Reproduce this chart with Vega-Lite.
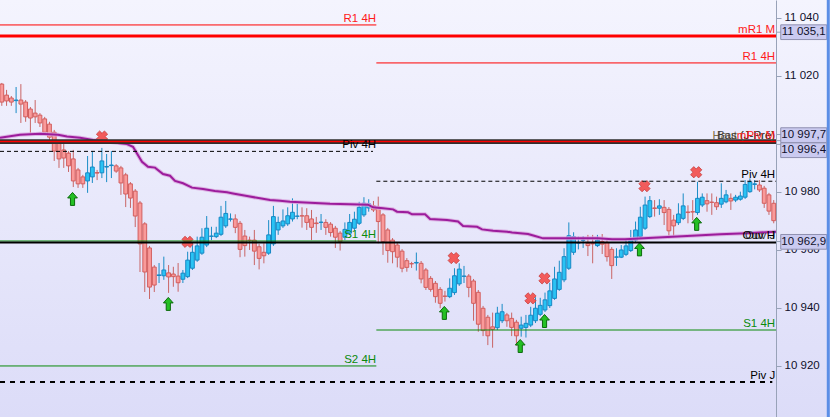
{
  "$schema": "https://vega.github.io/schema/vega-lite/v6.json",
  "width": 830,
  "height": 417,
  "autosize": "none",
  "padding": 0,
  "background": "#e8e8fa",
  "view": {"stroke": null, "fill": {"gradient": "linear", "x1": 0, "y1": 0, "x2": 0, "y2": 1, "stops": [{"offset": 0, "color": "#f4f4fe"}, {"offset": 1, "color": "#dcdcf8"}]}},
  "config": {
    "font": "Liberation Sans",
    "text": {"font": "Liberation Sans", "fontSize": 11},
    "scale": {"continuousPadding": 0},
    "axisY": {"grid": false, "domainColor": "#98a2b8", "tickColor": "#98a2b8", "tickSize": 5, "labelPadding": 3,
              "labelFont": "Liberation Sans", "labelFontSize": 11.5, "labelColor": "#10102a", "labelFlush": false, "labelOverlap": false}
  },
  "datasets": {
    "candles": [
      {"i":1,"o":11017.2,"h":11017.6,"l":11009.7,"c":11011.0},
      {"i":2,"o":11013.4,"h":11015.2,"l":11009.7,"c":11011.4},
      {"i":3,"o":11012.4,"h":11013.1,"l":11009.7,"c":11011.0},
      {"i":4,"o":11011.5,"h":11016.2,"l":11007.2,"c":11011.7},
      {"i":5,"o":11011.7,"h":11017.2,"l":11003.8,"c":11010.3},
      {"i":6,"o":11011.0,"h":11011.7,"l":11004.2,"c":11005.9},
      {"i":7,"o":11008.6,"h":11009.3,"l":11000.3,"c":11005.5},
      {"i":8,"o":11007.2,"h":11011.7,"l":11003.8,"c":11005.9},
      {"i":9,"o":11006.5,"h":11007.2,"l":11002.4,"c":11003.8},
      {"i":10,"o":11005.2,"h":11005.9,"l":10999.6,"c":11000.6},
      {"i":11,"o":11003.4,"h":11004.2,"l":10996.9,"c":10998.9},
      {"i":12,"o":11000.6,"h":11001.4,"l":10990.7,"c":10994.1},
      {"i":13,"o":10996.9,"h":10997.6,"l":10988.3,"c":10991.4},
      {"i":14,"o":10994.5,"h":10996.9,"l":10988.3,"c":10991.7},
      {"i":15,"o":10993.4,"h":10994.1,"l":10986.9,"c":10989.0},
      {"i":16,"o":10991.4,"h":10994.5,"l":10981.7,"c":10983.8},
      {"i":17,"o":10987.6,"h":10988.3,"l":10981.4,"c":10982.8},
      {"i":18,"o":10985.2,"h":10985.9,"l":10981.4,"c":10982.8},
      {"i":19,"o":10983.8,"h":10992.4,"l":10979.7,"c":10986.6},
      {"i":20,"o":10985.2,"h":10994.1,"l":10983.1,"c":10988.6},
      {"i":21,"o":10986.7,"h":10987.6,"l":10984.1,"c":10986.5},
      {"i":22,"o":10986.6,"h":10995.2,"l":10984.8,"c":10990.7},
      {"i":23,"o":10988.6,"h":10993.1,"l":10983.4,"c":10988.8},
      {"i":24,"o":10989.1,"h":10994.1,"l":10984.8,"c":10989.3},
      {"i":25,"o":10989.0,"h":10989.6,"l":10986.6,"c":10987.2},
      {"i":26,"o":10988.3,"h":10989.0,"l":10979.0,"c":10983.1},
      {"i":27,"o":10985.9,"h":10986.6,"l":10974.8,"c":10979.3},
      {"i":28,"o":10982.8,"h":10983.4,"l":10974.5,"c":10977.9},
      {"i":29,"o":10980.3,"h":10981.0,"l":10967.9,"c":10971.7},
      {"i":30,"o":10976.2,"h":10976.9,"l":10952.4,"c":10962.1},
      {"i":31,"o":10969.0,"h":10969.6,"l":10945.5,"c":10952.4},
      {"i":32,"o":10960.7,"h":10961.4,"l":10943.1,"c":10947.2},
      {"i":33,"o":10954.1,"h":10954.8,"l":10945.5,"c":10947.9},
      {"i":34,"o":10951.2,"h":10955.5,"l":10948.6,"c":10951.4},
      {"i":35,"o":10951.1,"h":10957.7,"l":10949.7,"c":10953.1},
      {"i":36,"o":10952.1,"h":10954.8,"l":10945.2,"c":10950.7},
      {"i":37,"o":10951.7,"h":10954.2,"l":10947.3,"c":10950.8},
      {"i":38,"o":10951.0,"h":10955.5,"l":10945.6,"c":10948.7},
      {"i":39,"o":10949.9,"h":10953.1,"l":10948.6,"c":10952.0},
      {"i":40,"o":10950.8,"h":10959.4,"l":10950.3,"c":10956.5},
      {"i":41,"o":10953.7,"h":10962.3,"l":10953.1,"c":10959.2},
      {"i":42,"o":10956.5,"h":10964.6,"l":10955.9,"c":10961.4},
      {"i":43,"o":10958.9,"h":10967.5,"l":10958.3,"c":10964.4},
      {"i":44,"o":10961.7,"h":10971.7,"l":10961.0,"c":10967.5},
      {"i":45,"o":10964.7,"h":10968.0,"l":10963.4,"c":10964.8},
      {"i":46,"o":10964.6,"h":10968.0,"l":10964.1,"c":10965.8},
      {"i":47,"o":10965.4,"h":10975.2,"l":10964.8,"c":10971.3},
      {"i":48,"o":10968.3,"h":10976.9,"l":10967.6,"c":10972.6},
      {"i":49,"o":10970.6,"h":10972.6,"l":10969.8,"c":10970.7},
      {"i":50,"o":10970.7,"h":10972.3,"l":10965.8,"c":10967.8},
      {"i":51,"o":10969.2,"h":10970.0,"l":10957.5,"c":10960.2},
      {"i":52,"o":10964.8,"h":10966.9,"l":10957.7,"c":10961.5},
      {"i":53,"o":10963.4,"h":10964.6,"l":10960.0,"c":10963.3},
      {"i":54,"o":10963.4,"h":10966.9,"l":10954.8,"c":10959.6},
      {"i":55,"o":10961.1,"h":10962.1,"l":10953.3,"c":10957.1},
      {"i":56,"o":10959.2,"h":10962.3,"l":10955.4,"c":10958.0},
      {"i":57,"o":10958.9,"h":10970.3,"l":10958.3,"c":10965.2},
      {"i":58,"o":10962.1,"h":10975.2,"l":10961.4,"c":10971.5},
      {"i":59,"o":10966.9,"h":10971.5,"l":10965.2,"c":10969.5},
      {"i":60,"o":10968.3,"h":10974.0,"l":10967.6,"c":10970.0},
      {"i":61,"o":10969.0,"h":10974.7,"l":10968.3,"c":10971.8},
      {"i":62,"o":10970.7,"h":10977.8,"l":10969.8,"c":10973.0},
      {"i":63,"o":10971.6,"h":10975.9,"l":10970.6,"c":10971.7},
      {"i":64,"o":10971.8,"h":10974.7,"l":10967.7,"c":10971.7},
      {"i":65,"o":10971.8,"h":10974.4,"l":10966.9,"c":10969.5},
      {"i":66,"o":10970.7,"h":10973.8,"l":10963.4,"c":10967.8},
      {"i":67,"o":10969.3,"h":10971.4,"l":10965.9,"c":10969.1},
      {"i":68,"o":10969.5,"h":10972.4,"l":10966.9,"c":10969.6},
      {"i":69,"o":10969.5,"h":10970.6,"l":10965.2,"c":10967.8},
      {"i":70,"o":10968.9,"h":10969.6,"l":10964.6,"c":10966.0},
      {"i":71,"o":10967.5,"h":10968.3,"l":10960.7,"c":10964.4},
      {"i":72,"o":10965.8,"h":10966.5,"l":10959.8,"c":10962.9},
      {"i":73,"o":10964.4,"h":10969.5,"l":10963.4,"c":10967.1},
      {"i":74,"o":10965.8,"h":10972.4,"l":10965.2,"c":10969.5},
      {"i":75,"o":10967.5,"h":10973.2,"l":10966.9,"c":10970.6},
      {"i":76,"o":10969.2,"h":10976.6,"l":10968.6,"c":10974.7},
      {"i":77,"o":10972.1,"h":10978.2,"l":10971.4,"c":10976.1},
      {"i":78,"o":10974.5,"h":10977.5,"l":10973.2,"c":10975.9},
      {"i":79,"o":10975.2,"h":10976.9,"l":10973.1,"c":10973.8},
      {"i":80,"o":10974.7,"h":10978.4,"l":10962.3,"c":10969.8},
      {"i":81,"o":10972.1,"h":10972.7,"l":10958.3,"c":10962.9},
      {"i":82,"o":10966.9,"h":10967.6,"l":10955.6,"c":10959.8},
      {"i":83,"o":10963.4,"h":10964.1,"l":10955.4,"c":10959.4},
      {"i":84,"o":10961.7,"h":10962.4,"l":10954.0,"c":10957.5},
      {"i":85,"o":10959.6,"h":10960.3,"l":10952.3,"c":10953.7},
      {"i":86,"o":10956.3,"h":10957.2,"l":10952.5,"c":10954.0},
      {"i":87,"o":10955.3,"h":10955.9,"l":10953.8,"c":10955.2},
      {"i":88,"o":10955.5,"h":10959.1,"l":10952.9,"c":10955.7},
      {"i":89,"o":10955.4,"h":10956.2,"l":10948.5,"c":10950.0},
      {"i":90,"o":10953.1,"h":10953.8,"l":10946.2,"c":10947.1},
      {"i":91,"o":10950.2,"h":10951.0,"l":10945.6,"c":10946.4},
      {"i":92,"o":10948.5,"h":10949.3,"l":10941.8,"c":10943.9},
      {"i":93,"o":10946.4,"h":10947.2,"l":10939.9,"c":10941.6},
      {"i":94,"o":10944.1,"h":10945.9,"l":10942.2,"c":10944.0},
      {"i":95,"o":10943.9,"h":10950.2,"l":10943.4,"c":10946.8},
      {"i":96,"o":10945.3,"h":10953.7,"l":10944.5,"c":10951.1},
      {"i":97,"o":10948.3,"h":10955.4,"l":10947.6,"c":10953.4},
      {"i":98,"o":10950.9,"h":10954.5,"l":10948.6,"c":10951.0},
      {"i":99,"o":10951.0,"h":10951.7,"l":10943.7,"c":10947.1},
      {"i":100,"o":10949.3,"h":10950.0,"l":10935.6,"c":10941.6},
      {"i":101,"o":10945.4,"h":10946.2,"l":10931.8,"c":10934.4},
      {"i":102,"o":10939.9,"h":10940.7,"l":10930.3,"c":10932.2},
      {"i":103,"o":10936.8,"h":10937.6,"l":10927.2,"c":10930.4},
      {"i":104,"o":10933.5,"h":10938.4,"l":10926.3,"c":10932.6},
      {"i":105,"o":10933.2,"h":10940.4,"l":10932.4,"c":10938.2},
      {"i":106,"o":10935.6,"h":10941.4,"l":10934.8,"c":10938.7},
      {"i":107,"o":10937.6,"h":10938.3,"l":10933.5,"c":10935.6},
      {"i":108,"o":10936.4,"h":10938.4,"l":10930.3,"c":10933.3},
      {"i":109,"o":10935.1,"h":10935.9,"l":10927.0,"c":10930.4},
      {"i":110,"o":10933.0,"h":10937.0,"l":10930.1,"c":10934.1},
      {"i":111,"o":10933.3,"h":10937.6,"l":10929.8,"c":10934.7},
      {"i":112,"o":10934.1,"h":10940.4,"l":10933.4,"c":10937.5},
      {"i":113,"o":10935.6,"h":10943.7,"l":10934.8,"c":10939.9},
      {"i":114,"o":10937.8,"h":10943.5,"l":10937.2,"c":10940.9},
      {"i":115,"o":10939.3,"h":10945.3,"l":10938.6,"c":10942.8},
      {"i":116,"o":10940.8,"h":10948.7,"l":10940.0,"c":10945.9},
      {"i":117,"o":10943.3,"h":10954.2,"l":10942.8,"c":10950.0},
      {"i":118,"o":10946.4,"h":10956.3,"l":10945.9,"c":10952.3},
      {"i":119,"o":10949.7,"h":10960.6,"l":10948.9,"c":10957.7},
      {"i":120,"o":10953.7,"h":10969.5,"l":10953.1,"c":10964.9},
      {"i":121,"o":10959.2,"h":10966.1,"l":10958.3,"c":10964.6},
      {"i":122,"o":10962.4,"h":10964.6,"l":10960.2,"c":10962.5},
      {"i":123,"o":10963.3,"h":10964.8,"l":10960.7,"c":10963.4},
      {"i":124,"o":10962.3,"h":10965.2,"l":10957.9,"c":10961.5},
      {"i":125,"o":10962.2,"h":10965.2,"l":10955.4,"c":10962.1},
      {"i":126,"o":10961.5,"h":10965.2,"l":10961.0,"c":10963.4},
      {"i":127,"o":10962.9,"h":10965.5,"l":10958.6,"c":10962.0},
      {"i":128,"o":10962.6,"h":10963.4,"l":10956.0,"c":10957.7},
      {"i":129,"o":10960.2,"h":10961.0,"l":10950.0,"c":10954.6},
      {"i":130,"o":10957.5,"h":10960.6,"l":10954.5,"c":10957.6},
      {"i":131,"o":10957.5,"h":10961.7,"l":10957.2,"c":10960.0},
      {"i":132,"o":10958.5,"h":10964.0,"l":10957.9,"c":10961.4},
      {"i":133,"o":10959.8,"h":10966.9,"l":10959.3,"c":10963.4},
      {"i":134,"o":10963.4,"h":10969.8,"l":10962.8,"c":10966.9},
      {"i":135,"o":10964.6,"h":10974.9,"l":10964.1,"c":10971.3},
      {"i":136,"o":10967.5,"h":10978.4,"l":10966.9,"c":10975.5},
      {"i":137,"o":10971.5,"h":10978.6,"l":10971.0,"c":10977.0},
      {"i":138,"o":10974.5,"h":10977.2,"l":10971.5,"c":10974.3},
      {"i":139,"o":10974.4,"h":10977.5,"l":10972.1,"c":10975.2},
      {"i":140,"o":10974.7,"h":10977.2,"l":10968.6,"c":10972.9},
      {"i":141,"o":10974.0,"h":10974.8,"l":10964.0,"c":10966.6},
      {"i":142,"o":10970.3,"h":10972.1,"l":10964.8,"c":10968.3},
      {"i":143,"o":10969.4,"h":10976.1,"l":10968.6,"c":10972.4},
      {"i":144,"o":10970.9,"h":10979.5,"l":10970.3,"c":10975.2},
      {"i":145,"o":10973.1,"h":10975.4,"l":10969.2,"c":10972.9},
      {"i":146,"o":10973.2,"h":10977.2,"l":10970.3,"c":10973.1},
      {"i":147,"o":10972.9,"h":10983.5,"l":10972.1,"c":10977.8},
      {"i":148,"o":10975.5,"h":10979.5,"l":10974.8,"c":10978.2},
      {"i":149,"o":10977.0,"h":10979.5,"l":10973.2,"c":10975.9},
      {"i":150,"o":10976.5,"h":10979.5,"l":10972.1,"c":10976.4},
      {"i":151,"o":10976.3,"h":10978.4,"l":10973.8,"c":10974.9},
      {"i":152,"o":10975.8,"h":10983.0,"l":10974.5,"c":10977.8},
      {"i":153,"o":10976.6,"h":10980.7,"l":10976.1,"c":10979.0},
      {"i":154,"o":10977.8,"h":10979.5,"l":10973.8,"c":10976.9},
      {"i":155,"o":10977.2,"h":10979.0,"l":10976.5,"c":10978.2},
      {"i":156,"o":10977.5,"h":10980.1,"l":10977.0,"c":10978.6},
      {"i":157,"o":10978.2,"h":10984.1,"l":10977.6,"c":10982.6},
      {"i":158,"o":10980.1,"h":10984.7,"l":10979.7,"c":10983.5},
      {"i":159,"o":10982.6,"h":10984.1,"l":10980.9,"c":10982.8},
      {"i":160,"o":10982.4,"h":10984.1,"l":10980.0,"c":10980.7},
      {"i":161,"o":10981.3,"h":10982.1,"l":10974.5,"c":10976.1},
      {"i":162,"o":10979.0,"h":10979.7,"l":10972.1,"c":10973.4},
      {"i":163,"o":10976.1,"h":10977.2,"l":10969.2,"c":10970.1}
    ],
    "ma": [
      {"i":0.62,"p":10998.7},{"i":4.82,"p":10999.7},{"i":9.02,"p":11000.1},{"i":12.79,"p":10999.7},
      {"i":14.68,"p":10999.1},{"i":17.41,"p":10998.7},{"i":20.14,"p":10997.9},{"i":24.34,"p":10997.1},
      {"i":27.27,"p":10996.5},{"i":28.53,"p":10995.6},{"i":29.37,"p":10993.3},{"i":30.42,"p":10990.4},
      {"i":31.68,"p":10988.7},{"i":33.15,"p":10988.4},{"i":34.83,"p":10986.2},{"i":36.3,"p":10985.6},
      {"i":37.35,"p":10983.8},{"i":39.03,"p":10983.0},{"i":40.92,"p":10981.5},{"i":43.23,"p":10981.0},
      {"i":45.74,"p":10980.3},{"i":48.26,"p":10979.9},{"i":49.52,"p":10979.5},{"i":52.46,"p":10978.6},
      {"i":55.19,"p":10977.8},{"i":57.29,"p":10977.2},{"i":59.39,"p":10977.0},{"i":61.48,"p":10976.6},
      {"i":65.68,"p":10976.3},{"i":69.88,"p":10975.9},{"i":74.08,"p":10975.8},{"i":77.86,"p":10975.6},
      {"i":78.91,"p":10974.7},{"i":81.01,"p":10974.4},{"i":83.11,"p":10974.0},{"i":83.95,"p":10973.2},
      {"i":86.26,"p":10973.0},{"i":87.1,"p":10972.3},{"i":89.83,"p":10972.3},{"i":90.88,"p":10970.7},
      {"i":94.44,"p":10970.3},{"i":96.75,"p":10969.8},{"i":97.8,"p":10968.3},{"i":100.74,"p":10968.0},
      {"i":101.79,"p":10967.1},{"i":104.1,"p":10966.6},{"i":107.04,"p":10966.3},{"i":108.09,"p":10966.0},
      {"i":111.44,"p":10965.5},{"i":112.91,"p":10964.8},{"i":114.59,"p":10964.0},{"i":119.21,"p":10964.0},
      {"i":126.13,"p":10964.0},{"i":129.07,"p":10963.7},{"i":131.8,"p":10963.7},{"i":137.68,"p":10964.2},
      {"i":144.81,"p":10964.8},{"i":151.74,"p":10965.4},{"i":157.4,"p":10965.8},{"i":160.13,"p":10966.0},
      {"i":163.48,"p":10966.3}
    ],
    "sells": [
      {"i":22.03,"p":10999.1},{"i":39.97,"p":10962.8},{"i":95.84,"p":10957.2},{"i":111.95,"p":10943.3},
      {"i":114.89,"p":10950.2},{"i":135.88,"p":10982.0},{"i":146.73,"p":10986.8}
    ],
    "buys": [
      {"i":15.84,"p":10977.6},{"i":35.94,"p":10941.4},{"i":93.87,"p":10938.3},{"i":109.8,"p":10926.9},
      {"i":114.9,"p":10935.5},{"i":134.83,"p":10960.2},{"i":146.83,"p":10969.0}
    ],
    "levels": [
      {"name":"R1 4H","p":11037.6,"a":0.62,"b":79.6},
      {"name":"mR1 M","p":11033.8,"a":0.62,"b":163.48},
      {"name":"R1 4H","p":11024.5,"a":79.6,"b":163.48},
      {"name":"Haut (J-Pré)","p":10997.35,"a":0.62,"b":163.48},
      {"name":"mPiv M","p":10997.4,"a":0.62,"b":163.48},
      {"name":"Piv 4H","p":10994.0,"a":0.62,"b":78.9},
      {"name":"Piv 4H","p":10983.7,"a":79.6,"b":163.48},
      {"name":"S1 4H","p":10963.1,"a":0.62,"b":79.6},
      {"name":"Ouv H","p":10962.6,"a":0.62,"b":163.48},
      {"name":"S1 4H","p":10932.4,"a":79.6,"b":163.48},
      {"name":"S2 4H","p":10920.0,"a":0.62,"b":79.6},
      {"name":"Piv J","p":10914.5,"a":0.62,"b":162.7}
    ],
    "labels": [
      {"t":"R1 4H","g":"R","p":11037.6,"i":79.55},
      {"t":"mR1 M","g":"R","p":11033.8,"i":163.3},
      {"t":"R1 4H","g":"R","p":11024.5,"i":163.3},
      {"t":"Haut (J-Pré)","g":"H","p":10997.35,"i":163.3},
      {"t":"Bas (J-Pré)","g":"B","p":10997.35,"i":163.3},
      {"t":"mPiv M","g":"R","p":10997.35,"i":163.3},
      {"t":"Piv 4H","g":"P","p":10994.0,"i":79.55},
      {"t":"Piv 4H","g":"P","p":10983.7,"i":163.3},
      {"t":"S1 4H","g":"S","p":10963.1,"i":79.55},
      {"t":"Ouv J","g":"B","p":10962.6,"i":163.3},
      {"t":"Ouv H","g":"P","p":10962.6,"i":163.3},
      {"t":"S1 4H","g":"S","p":10932.4,"i":163.3},
      {"t":"S2 4H","g":"S","p":10920.0,"i":79.55},
      {"t":"Piv J","g":"P","p":10914.5,"i":163.3}
    ],
    "boxes": [
      {"t":"11 035,1","p":11035.1,"yp":11035.1},
      {"t":"10 997,7","p":10997.7,"yp":10999.6},
      {"t":"10 996,4","p":10996.4,"yp":10994.4},
      {"t":"10 962,9","p":10962.9,"yp":10962.8}
    ]
  },
  "layer": [
    {
      "data": {"name": "candles"},
      "mark": {"type": "rule", "strokeWidth": 1},
      "encoding": {
        "x": {"field": "i", "type": "quantitative", "scale": {"domain": [0.62, 174.81], "nice": false, "zero": false, "padding": 0}, "axis": null},
        "y": {"field": "l", "type": "quantitative", "scale": {"domain": [10902.4, 11046.2], "nice": false, "zero": false, "padding": 0}, "axis": {"orient": "right", "offset": -54, "values": [10920, 10940, 10960, 10980, 11000, 11020, 11040], "labelExpr": "replace(format(datum.value, ',.0f'), ',', ' ')", "title": null}},
        "y2": {"field": "h"},
        "color": {"condition": {"test": "datum.c < datum.o", "value": "#c96565"}, "value": "#1a8cc6"}
      }
    },
    {
      "data": {"name": "candles"},
      "mark": {"type": "bar", "size": 3.8, "strokeWidth": 1},
      "encoding": {
        "x": {"field": "i", "type": "quantitative", "scale": {"domain": [0.62, 174.81], "nice": false, "zero": false, "padding": 0}, "axis": null},
        "y": {"field": "o", "type": "quantitative", "scale": {"domain": [10902.4, 11046.2], "nice": false, "zero": false, "padding": 0}, "axis": {"orient": "right", "offset": -54, "values": [10920, 10940, 10960, 10980, 11000, 11020, 11040], "labelExpr": "replace(format(datum.value, ',.0f'), ',', ' ')", "title": null}},
        "y2": {"field": "c"},
        "fill": {"condition": {"test": "datum.c < datum.o", "value": "#f99a9a"}, "value": "#2ac3f4"},
        "stroke": {"condition": {"test": "datum.c < datum.o", "value": "#d25e5e"}, "value": "#1788c4"}
      }
    },
    {
      "data": {"name": "ma"},
      "mark": {"type": "line", "strokeWidth": 4, "color": "#d9a6de", "opacity": 0.8},
      "encoding": {
        "x": {"field": "i", "type": "quantitative", "scale": {"domain": [0.62, 174.81], "nice": false, "zero": false, "padding": 0}, "axis": null},
        "y": {"field": "p", "type": "quantitative", "scale": {"domain": [10902.4, 11046.2], "nice": false, "zero": false, "padding": 0}, "axis": {"orient": "right", "offset": -54, "values": [10920, 10940, 10960, 10980, 11000, 11020, 11040], "labelExpr": "replace(format(datum.value, ',.0f'), ',', ' ')", "title": null}}
      }
    },
    {
      "data": {"name": "ma"},
      "mark": {"type": "line", "strokeWidth": 2, "color": "#9c1c9c"},
      "encoding": {
        "x": {"field": "i", "type": "quantitative", "scale": {"domain": [0.62, 174.81], "nice": false, "zero": false, "padding": 0}, "axis": null},
        "y": {"field": "p", "type": "quantitative", "scale": {"domain": [10902.4, 11046.2], "nice": false, "zero": false, "padding": 0}, "axis": {"orient": "right", "offset": -54, "values": [10920, 10940, 10960, 10980, 11000, 11020, 11040], "labelExpr": "replace(format(datum.value, ',.0f'), ',', ' ')", "title": null}}
      }
    },
    {
      "data": {"name": "sells"},
      "mark": {"type": "point", "shape": "cross", "angle": 45, "size": 130, "filled": true, "fill": "#f25b5b", "stroke": "#c43c3c", "strokeWidth": 0.7, "opacity": 1},
      "encoding": {
        "x": {"field": "i", "type": "quantitative", "scale": {"domain": [0.62, 174.81], "nice": false, "zero": false, "padding": 0}, "axis": null},
        "y": {"field": "p", "type": "quantitative", "scale": {"domain": [10902.4, 11046.2], "nice": false, "zero": false, "padding": 0}, "axis": {"orient": "right", "offset": -54, "values": [10920, 10940, 10960, 10980, 11000, 11020, 11040], "labelExpr": "replace(format(datum.value, ',.0f'), ',', ' ')", "title": null}}
      }
    },
    {
      "data": {"name": "buys"},
      "mark": {"type": "point", "shape": "M0,-1L0.75,-0.15L0.32,-0.15L0.32,1L-0.32,1L-0.32,-0.15L-0.75,-0.15Z", "size": 169, "filled": true, "fill": "#24c024", "stroke": "#0c6a0c", "strokeWidth": 1, "opacity": 1},
      "encoding": {
        "x": {"field": "i", "type": "quantitative", "scale": {"domain": [0.62, 174.81], "nice": false, "zero": false, "padding": 0}, "axis": null},
        "y": {"field": "p", "type": "quantitative", "scale": {"domain": [10902.4, 11046.2], "nice": false, "zero": false, "padding": 0}, "axis": {"orient": "right", "offset": -54, "values": [10920, 10940, 10960, 10980, 11000, 11020, 11040], "labelExpr": "replace(format(datum.value, ',.0f'), ',', ' ')", "title": null}}
      }
    },
    {
      "data": {"name": "levels"},
      "transform": [{"filter": "datum.name == 'R1 4H'"}],
      "mark": {"type": "rule", "strokeWidth": 1, "color": "#ff0000"},
      "encoding": {
        "x": {"field": "a", "type": "quantitative", "scale": {"domain": [0.62, 174.81], "nice": false, "zero": false, "padding": 0}, "axis": null},
        "x2": {"field": "b"},
        "y": {"field": "p", "type": "quantitative", "scale": {"domain": [10902.4, 11046.2], "nice": false, "zero": false, "padding": 0}, "axis": {"orient": "right", "offset": -54, "values": [10920, 10940, 10960, 10980, 11000, 11020, 11040], "labelExpr": "replace(format(datum.value, ',.0f'), ',', ' ')", "title": null}}
      }
    },
    {
      "data": {"name": "levels"},
      "transform": [{"filter": "datum.name == 'S1 4H' || datum.name == 'S2 4H'"}],
      "mark": {"type": "rule", "strokeWidth": 1, "color": "#0a8a0a"},
      "encoding": {
        "x": {"field": "a", "type": "quantitative", "scale": {"domain": [0.62, 174.81], "nice": false, "zero": false, "padding": 0}, "axis": null},
        "x2": {"field": "b"},
        "y": {"field": "p", "type": "quantitative", "scale": {"domain": [10902.4, 11046.2], "nice": false, "zero": false, "padding": 0}, "axis": {"orient": "right", "offset": -54, "values": [10920, 10940, 10960, 10980, 11000, 11020, 11040], "labelExpr": "replace(format(datum.value, ',.0f'), ',', ' ')", "title": null}}
      }
    },
    {
      "data": {"name": "levels"},
      "transform": [{"filter": "datum.name == 'mR1 M'"}],
      "mark": {"type": "rule", "strokeWidth": 3, "color": "#ff0000"},
      "encoding": {
        "x": {"field": "a", "type": "quantitative", "scale": {"domain": [0.62, 174.81], "nice": false, "zero": false, "padding": 0}, "axis": null},
        "x2": {"field": "b"},
        "y": {"field": "p", "type": "quantitative", "scale": {"domain": [10902.4, 11046.2], "nice": false, "zero": false, "padding": 0}, "axis": {"orient": "right", "offset": -54, "values": [10920, 10940, 10960, 10980, 11000, 11020, 11040], "labelExpr": "replace(format(datum.value, ',.0f'), ',', ' ')", "title": null}}
      }
    },
    {
      "data": {"name": "levels"},
      "transform": [{"filter": "datum.name == 'Haut (J-Pré)'"}],
      "mark": {"type": "rule", "strokeWidth": 4.6, "color": "#2e2e2e"},
      "encoding": {
        "x": {"field": "a", "type": "quantitative", "scale": {"domain": [0.62, 174.81], "nice": false, "zero": false, "padding": 0}, "axis": null},
        "x2": {"field": "b"},
        "y": {"field": "p", "type": "quantitative", "scale": {"domain": [10902.4, 11046.2], "nice": false, "zero": false, "padding": 0}, "axis": {"orient": "right", "offset": -54, "values": [10920, 10940, 10960, 10980, 11000, 11020, 11040], "labelExpr": "replace(format(datum.value, ',.0f'), ',', ' ')", "title": null}}
      }
    },
    {
      "data": {"name": "levels"},
      "transform": [{"filter": "datum.name == 'mPiv M'"}],
      "mark": {"type": "rule", "strokeWidth": 1.4, "color": "#ff0000"},
      "encoding": {
        "x": {"field": "a", "type": "quantitative", "scale": {"domain": [0.62, 174.81], "nice": false, "zero": false, "padding": 0}, "axis": null},
        "x2": {"field": "b"},
        "y": {"field": "p", "type": "quantitative", "scale": {"domain": [10902.4, 11046.2], "nice": false, "zero": false, "padding": 0}, "axis": {"orient": "right", "offset": -54, "values": [10920, 10940, 10960, 10980, 11000, 11020, 11040], "labelExpr": "replace(format(datum.value, ',.0f'), ',', ' ')", "title": null}}
      }
    },
    {
      "data": {"name": "levels"},
      "transform": [{"filter": "datum.name == 'Ouv H'"}],
      "mark": {"type": "rule", "strokeWidth": 2, "color": "#000000"},
      "encoding": {
        "x": {"field": "a", "type": "quantitative", "scale": {"domain": [0.62, 174.81], "nice": false, "zero": false, "padding": 0}, "axis": null},
        "x2": {"field": "b"},
        "y": {"field": "p", "type": "quantitative", "scale": {"domain": [10902.4, 11046.2], "nice": false, "zero": false, "padding": 0}, "axis": {"orient": "right", "offset": -54, "values": [10920, 10940, 10960, 10980, 11000, 11020, 11040], "labelExpr": "replace(format(datum.value, ',.0f'), ',', ' ')", "title": null}}
      }
    },
    {
      "data": {"name": "levels"},
      "transform": [{"filter": "datum.name == 'Piv 4H'"}],
      "mark": {"type": "rule", "strokeWidth": 1, "color": "#000000", "strokeDash": [4, 3]},
      "encoding": {
        "x": {"field": "a", "type": "quantitative", "scale": {"domain": [0.62, 174.81], "nice": false, "zero": false, "padding": 0}, "axis": null},
        "x2": {"field": "b"},
        "y": {"field": "p", "type": "quantitative", "scale": {"domain": [10902.4, 11046.2], "nice": false, "zero": false, "padding": 0}, "axis": {"orient": "right", "offset": -54, "values": [10920, 10940, 10960, 10980, 11000, 11020, 11040], "labelExpr": "replace(format(datum.value, ',.0f'), ',', ' ')", "title": null}}
      }
    },
    {
      "data": {"name": "levels"},
      "transform": [{"filter": "datum.name == 'Piv J'"}],
      "mark": {"type": "rule", "strokeWidth": 2, "color": "#000000", "strokeDash": [5, 5]},
      "encoding": {
        "x": {"field": "a", "type": "quantitative", "scale": {"domain": [0.62, 174.81], "nice": false, "zero": false, "padding": 0}, "axis": null},
        "x2": {"field": "b"},
        "y": {"field": "p", "type": "quantitative", "scale": {"domain": [10902.4, 11046.2], "nice": false, "zero": false, "padding": 0}, "axis": {"orient": "right", "offset": -54, "values": [10920, 10940, 10960, 10980, 11000, 11020, 11040], "labelExpr": "replace(format(datum.value, ',.0f'), ',', ' ')", "title": null}}
      }
    },
    {
      "data": {"name": "labels"},
      "mark": {"type": "text", "align": "right", "baseline": "alphabetic", "dy": -3, "fontSize": 11.5, "font": "Liberation Sans"},
      "encoding": {
        "x": {"field": "i", "type": "quantitative", "scale": {"domain": [0.62, 174.81], "nice": false, "zero": false, "padding": 0}, "axis": null},
        "y": {"field": "p", "type": "quantitative", "scale": {"domain": [10902.4, 11046.2], "nice": false, "zero": false, "padding": 0}, "axis": {"orient": "right", "offset": -54, "values": [10920, 10940, 10960, 10980, 11000, 11020, 11040], "labelExpr": "replace(format(datum.value, ',.0f'), ',', ' ')", "title": null}},
        "text": {"field": "t"},
        "color": {"field": "g", "type": "nominal", "legend": null,
                  "scale": {"domain": ["R", "S", "P", "H", "B"], "range": ["#ff1a1a", "#0a8a0a", "#000000", "#7d6d45", "#3a3a3a"]}}
      }
    },
    {
      "data": {"name": "boxes"},
      "mark": {"type": "rule", "strokeWidth": 1, "color": "#98a2b8"},
      "encoding": {
        "x": {"datum": 163.48, "type": "quantitative", "scale": {"domain": [0.62, 174.81], "nice": false, "zero": false, "padding": 0}, "axis": null},
        "x2": {"datum": 164.6},
        "y": {"field": "p", "type": "quantitative", "scale": {"domain": [10902.4, 11046.2], "nice": false, "zero": false, "padding": 0}, "axis": {"orient": "right", "offset": -54, "values": [10920, 10940, 10960, 10980, 11000, 11020, 11040], "labelExpr": "replace(format(datum.value, ',.0f'), ',', ' ')", "title": null}}
      }
    },
    {
      "data": {"name": "boxes"},
      "mark": {"type": "point", "shape": "M-1,-0.32L1,-0.32L1,0.32L-1,0.32Z", "size": 2116, "filled": true, "fill": "#cacaf0", "stroke": "#8f90b0", "strokeWidth": 1, "opacity": 1},
      "encoding": {
        "x": {"datum": 169.3, "type": "quantitative", "scale": {"domain": [0.62, 174.81], "nice": false, "zero": false, "padding": 0}, "axis": null},
        "y": {"field": "yp", "type": "quantitative", "scale": {"domain": [10902.4, 11046.2], "nice": false, "zero": false, "padding": 0}, "axis": {"orient": "right", "offset": -54, "values": [10920, 10940, 10960, 10980, 11000, 11020, 11040], "labelExpr": "replace(format(datum.value, ',.0f'), ',', ' ')", "title": null}}
      }
    },
    {
      "data": {"name": "boxes"},
      "mark": {"type": "text", "align": "center", "baseline": "middle", "fontSize": 11.5, "font": "Liberation Sans", "color": "#10102a"},
      "encoding": {
        "x": {"datum": 169.3, "type": "quantitative", "scale": {"domain": [0.62, 174.81], "nice": false, "zero": false, "padding": 0}, "axis": null},
        "y": {"field": "yp", "type": "quantitative", "scale": {"domain": [10902.4, 11046.2], "nice": false, "zero": false, "padding": 0}, "axis": {"orient": "right", "offset": -54, "values": [10920, 10940, 10960, 10980, 11000, 11020, 11040], "labelExpr": "replace(format(datum.value, ',.0f'), ',', ' ')", "title": null}},
        "text": {"field": "t"}
      }
    },
    {
      "data": {"values": [{"edge": 174.45}]},
      "mark": {"type": "rule", "strokeWidth": 3, "color": "#5b8ee6"},
      "encoding": {
        "x": {"field": "edge", "type": "quantitative", "scale": {"domain": [0.62, 174.81], "nice": false, "zero": false, "padding": 0}, "axis": null}
      }
    }
  ]
}
